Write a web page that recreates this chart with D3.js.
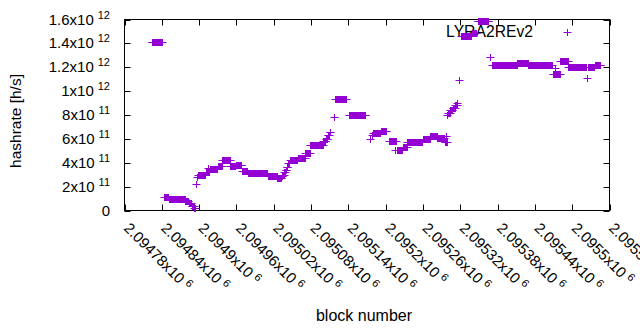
<!DOCTYPE html>
<html lang=en>
<head>
<meta charset="utf-8">
<script src="https://d3js.org/d3.v7.min.js"></script>
<style>
  body { margin: 0; background: #fff; }
  svg { font-family: 'Liberation Sans', Arial, sans-serif; }
</style>
</head>
<body>
<div id="chart"></div>
<script>
// runs of equal hashrate: first block, last block, hashrate [h/s]
var runFirst = [2094824, 2094844, 2094851, 2094870, 2094878, 2094883, 2094888, 2094892, 2094895, 2094897,
  2094899, 2094911, 2094914, 2094917, 2094930, 2094937, 2094950, 2094959, 2094969, 2094978,
  2095010, 2095026, 2095033, 2095035, 2095037, 2095039, 2095041, 2095043, 2095046, 2095059,
  2095071, 2095079, 2095100, 2095104, 2095107, 2095110, 2095117, 2095119, 2095141, 2095175,
  2095178, 2095180, 2095193, 2095206, 2095215, 2095219, 2095228, 2095235, 2095260, 2095272,
  2095283, 2095295, 2095297, 2095299, 2095301, 2095304, 2095308, 2095312, 2095315, 2095318,
  2095321, 2095339, 2095348, 2095368, 2095371, 2095412, 2095429, 2095469, 2095473, 2095481,
  2095494, 2095524, 2095525, 2095536];
var runLast = [2094840, 2094850, 2094869, 2094877, 2094882, 2094887, 2094891, 2094893, 2094895, 2094897,
  2094910, 2094916, 2094914, 2094929, 2094936, 2094949, 2094958, 2094968, 2094977, 2095009,
  2095025, 2095032, 2095034, 2095036, 2095038, 2095040, 2095042, 2095045, 2095058, 2095070,
  2095078, 2095099, 2095103, 2095106, 2095109, 2095111, 2095117, 2095136, 2095167, 2095175,
  2095178, 2095191, 2095201, 2095216, 2095215, 2095227, 2095234, 2095259, 2095271, 2095282,
  2095294, 2095298, 2095297, 2095299, 2095303, 2095307, 2095311, 2095314, 2095315, 2095318,
  2095337, 2095345, 2095365, 2095368, 2095411, 2095429, 2095467, 2095480, 2095473, 2095493,
  2095523, 2095524, 2095535, 2095545];
var runHash = [1.41e12, 1.10e11, 1.00e11, 0.95e11, 0.80e11, 0.62e11, 0.40e11, 0.20e11, 2.26e11, 2.80e11,
  2.95e11, 3.20e11, 3.60e11, 3.45e11, 3.70e11, 4.27e11, 3.70e11, 3.85e11, 3.27e11, 3.10e11,
  2.85e11, 2.72e11, 2.85e11, 3.00e11, 3.20e11, 3.40e11, 3.65e11, 3.95e11, 4.25e11, 4.40e11,
  4.85e11, 5.45e11, 5.80e11, 6.00e11, 6.30e11, 6.60e11, 7.80e11, 9.30e11, 8.00e11, 6.00e11,
  6.35e11, 6.50e11, 6.70e11, 5.80e11, 5.10e11, 5.10e11, 5.35e11, 5.70e11, 6.00e11, 6.25e11,
  6.10e11, 5.70e11, 6.20e11, 8.00e11, 8.20e11, 8.40e11, 8.55e11, 8.80e11, 9.00e11, 1.09e12,
  1.46e12, 1.49e12, 1.585e12, 1.29e12, 1.215e12, 1.235e12, 1.22e12, 1.145e12, 1.19e12, 1.25e12,
  1.205e12, 1.11e12, 1.20e12, 1.215e12];

var xTicks = [2094780, 2094840, 2094900, 2094960, 2095020, 2095080, 2095140,
  2095200, 2095260, 2095320, 2095380, 2095440, 2095500, 2095560];
var xTickLabels = ["2.09478x10^6", "2.09484x10^6", "2.0949x10^6", "2.09496x10^6", "2.09502x10^6",
  "2.09508x10^6", "2.09514x10^6", "2.0952x10^6", "2.09526x10^6", "2.09532x10^6",
  "2.09538x10^6", "2.09544x10^6", "2.0955x10^6", "2.09556x10^6"];
var yTicks = [0, 2e11, 4e11, 6e11, 8e11, 1e12, 1.2e12, 1.4e12, 1.6e12];
var yTickLabels = ["0", "2x10^11", "4x10^11", "6x10^11", "8x10^11", "1x10^12",
  "1.2x10^12", "1.4x10^12", "1.6x10^12"];
var seriesName = "LYRA2REv2";

(function() {
  var width = 640, height = 330;
  var left = 124.5, right = 609.5, top = 19.5, bottom = 210.5;
  var color = "#9400d3";

  var svg = d3.select("#chart").append("svg")
      .attr("width", width)
      .attr("height", height);

  var x = d3.scaleLinear().domain([2094780, 2095560]).range([left, right]);
  var y = d3.scaleLinear().domain([0, 1.6e12]).range([bottom, top]);

  // one point per block inside every run
  var points = [];
  runFirst.forEach(function(b0, i) {
    for (var b = b0; b <= runLast[i]; b++) points.push({block: b, hash: runHash[i]});
  });

  // label with a gnuplot style superscript exponent
  function powerLabel(sel, s, supSize, supDx, supDy) {
    var parts = s.split("^");
    sel.append("tspan").text(parts[0]);
    if (parts.length > 1) {
      sel.append("tspan")
          .attr("dx", supDx)
          .attr("dy", supDy)
          .attr("font-size", supSize)
          .text(parts[1]);
    }
  }

  // frame
  svg.append("rect")
      .attr("x", left).attr("y", top)
      .attr("width", right - left).attr("height", bottom - top)
      .attr("fill", "none").attr("stroke", "#000").attr("stroke-width", 1);

  var tick = 6;
  var axes = svg.append("g").attr("stroke", "#000").attr("stroke-width", 1);
  yTicks.forEach(function(v) {
    var yy = Math.round(y(v)) + 0.5;
    axes.append("line").attr("x1", left).attr("x2", left + tick).attr("y1", yy).attr("y2", yy);
    axes.append("line").attr("x1", right).attr("x2", right - tick).attr("y1", yy).attr("y2", yy);
  });
  xTicks.forEach(function(v) {
    var xx = Math.round(x(v)) + 0.5;
    axes.append("line").attr("x1", xx).attr("x2", xx).attr("y1", bottom).attr("y2", bottom - tick);
    axes.append("line").attr("x1", xx).attr("x2", xx).attr("y1", top).attr("y2", top + tick);
  });

  // y tick labels
  yTicks.forEach(function(v, i) {
    var t = svg.append("text")
        .attr("x", 110)
        .attr("y", y(v) + 5)
        .attr("text-anchor", "end")
        .attr("font-size", 15)
        .attr("fill", "#000");
    powerLabel(t, yTickLabels[i], 11, 4, -6);
  });

  // x tick labels, rotated
  xTicks.forEach(function(v, i) {
    var px = x(v) - 1.5, py = 229;
    var t = svg.append("text")
        .attr("transform", "translate(" + px + "," + py + ") rotate(45)")
        .attr("font-size", 15)
        .attr("fill", "#000");
    powerLabel(t, xTickLabels[i], 11, 4, -5);
  });

  // axis titles
  svg.append("text")
      .attr("x", 364).attr("y", 321)
      .attr("text-anchor", "middle")
      .attr("font-size", 16)
      .text("block number");
  svg.append("text")
      .attr("transform", "translate(21,121) rotate(-90)")
      .attr("text-anchor", "middle")
      .attr("font-size", 15.5)
      .text("hashrate [h/s]");

  // legend
  svg.append("text")
      .attr("x", 533).attr("y", 37)
      .attr("text-anchor", "end")
      .attr("font-size", 15.7)
      .text(seriesName);

  var plus = "M-4,0H4M0,-3.5V3.5";
  svg.append("path")
      .attr("transform", "translate(567.5,32.5)")
      .attr("d", plus)
      .attr("stroke", color).attr("fill", "none");

  // data points
  svg.append("g")
    .selectAll("path")
    .data(points)
    .enter().append("path")
      .attr("transform", function(d) {
        return "translate(" + (Math.round(x(d.block)) + 0.5) + "," + (Math.round(y(d.hash)) + 0.5) + ")";
      })
      .attr("d", plus)
      .attr("stroke", color)
      .attr("stroke-width", 1)
      .attr("fill", "none");
})();
</script>
</body>
</html>
